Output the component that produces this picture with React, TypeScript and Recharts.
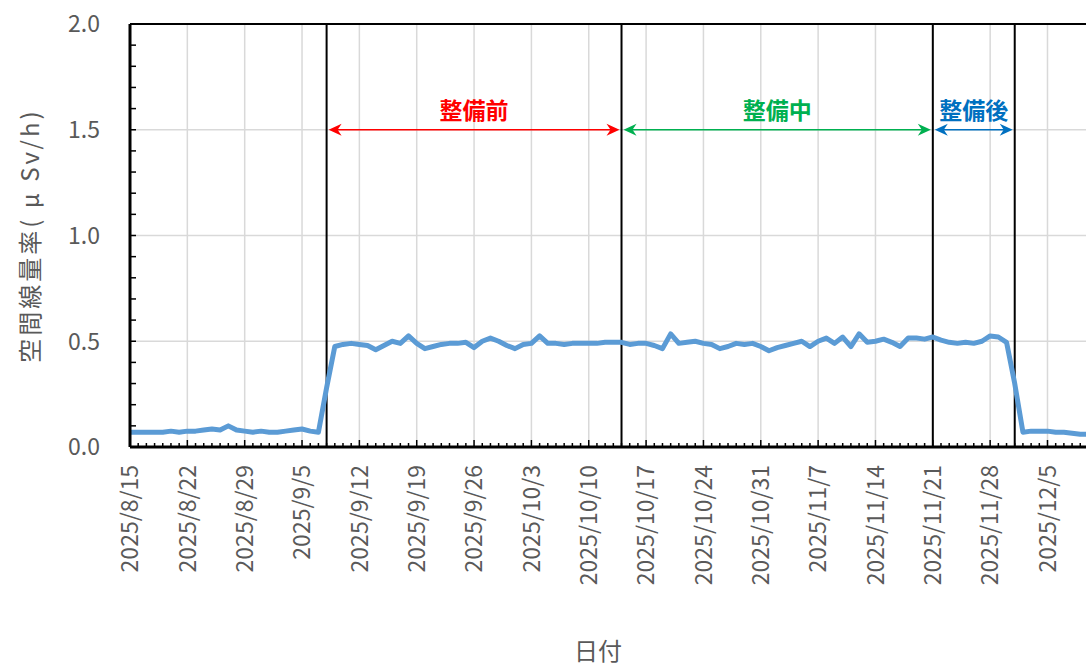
import { LineChart, Line, XAxis, YAxis, CartesianGrid, ReferenceLine } from "recharts"

// 空間線量率 (μSv/h), one reading per day starting 2025/8/15
const startDate = "2025/8/15"
const doseRate = [
  0.07, 0.07, 0.07, 0.07, 0.07, 0.075, 0.07, 0.075, 0.075, 0.08, 0.085, 0.08,
  0.1, 0.08, 0.075, 0.07, 0.075, 0.07, 0.07, 0.075, 0.08, 0.085, 0.075, 0.07,
  0.28,
  0.475, 0.485, 0.49, 0.485, 0.48, 0.46, 0.48, 0.5, 0.49, 0.525,
  0.49, 0.465, 0.475, 0.485, 0.49, 0.49, 0.495, 0.47, 0.5, 0.515,
  0.5, 0.48, 0.465, 0.485, 0.49, 0.525, 0.49, 0.49, 0.485, 0.49,
  0.49, 0.49, 0.49, 0.495, 0.495, 0.495, 0.485, 0.49, 0.49, 0.48,
  0.465, 0.535, 0.49, 0.495, 0.5, 0.49, 0.485, 0.465, 0.475, 0.49,
  0.485, 0.49, 0.475, 0.455, 0.47, 0.48, 0.49, 0.5, 0.475,
  0.5, 0.515, 0.49, 0.52, 0.475, 0.535, 0.495, 0.5, 0.51, 0.495,
  0.475, 0.515, 0.515, 0.51, 0.52, 0.505, 0.495, 0.49, 0.495, 0.49,
  0.5, 0.525, 0.52, 0.495,
  0.3,
  0.07, 0.075, 0.075, 0.075, 0.07, 0.07, 0.065, 0.06, 0.06,
]

const xTickDates = [
  "2025/8/15", "2025/8/22", "2025/8/29", "2025/9/5", "2025/9/12", "2025/9/19",
  "2025/9/26", "2025/10/3", "2025/10/10", "2025/10/17", "2025/10/24", "2025/10/31",
  "2025/11/7", "2025/11/14", "2025/11/21", "2025/11/28", "2025/12/5",
]
const lastVisibleDay = 116.7

const yTicks = [0, 0.5, 1.0, 1.5, 2.0]

const phaseNames = ["整備前", "整備中", "整備後"]
const phaseBounds = ["2025/9/8", "2025/10/14", "2025/11/21", "2025/12/1"]
const phaseLevel = 1.5

const phaseColors = ["#FF0000", "#00B050", "#0070C0"]
const GRAY = "#595959"
const FONT = '"Noto Sans CJK JP", "Noto Sans", sans-serif'

const toUTC = (s: string) => {
  const [y, m, d] = s.split("/").map(Number)
  return Date.UTC(y, m - 1, d)
}
const dayOf = (s: string) => Math.round((toUTC(s) - toUTC(startDate)) / 86400000)

const data = doseRate.map((v, i) => ({ day: i, v }))
const majorDays = xTickDates.map(dayOf)
const allDays = Array.from({ length: Math.floor(lastVisibleDay) + 1 }, (_, i) => i)
const yMinor = Array.from({ length: 21 }, (_, i) => i / 10)

function XTick(props: any) {
  const { x, y, payload } = props
  const idx = majorDays.indexOf(payload.value)
  const major = idx >= 0
  const ty = y + 18
  return (
    <g>
      <line x1={x} x2={x} y1={y} y2={y - (major ? 7 : 4)} stroke="#000" strokeWidth={1.5} />
      {major && (
        <text
          x={x}
          y={ty}
          transform={`rotate(-90 ${x} ${ty})`}
          textAnchor="end"
          dy="0.36em"
          fill={GRAY}
          fontSize={23}
          fontFamily={FONT}
        >
          {xTickDates[idx]}
        </text>
      )}
    </g>
  )
}

function YTick(props: any) {
  const { x, y, payload } = props
  const v = payload.value
  const major = yTicks.some((t) => Math.abs(t - v) < 1e-6)
  return (
    <g>
      <line x1={x} x2={x + 6} y1={y} y2={y} stroke="#000" strokeWidth={1.5} />
      {major && (
        <text x={x - 30} y={y} textAnchor="end" dy="0.36em" fill={GRAY} fontSize={23} fontFamily={FONT}>
          {v.toFixed(1)}
        </text>
      )}
    </g>
  )
}

function phaseArrow(name: string, color: string) {
  return (p: any) => {
    const { x1, x2, y1 } = p
    const a = x1 + 2
    const b = x2 - 2
    return (
      <g>
        <line x1={a + 6} x2={b - 6} y1={y1} y2={y1} stroke={color} strokeWidth={1.5} />
        <path d={`M${a},${y1} L${a + 13},${y1 - 6} L${a + 9},${y1} L${a + 13},${y1 + 6} Z`} fill={color} />
        <path d={`M${b},${y1} L${b - 13},${y1 - 6} L${b - 9},${y1} L${b - 13},${y1 + 6} Z`} fill={color} />
        <text
          x={(x1 + x2) / 2}
          y={y1 - 21}
          textAnchor="middle"
          dominantBaseline="central"
          fill={color}
          fontSize={23}
          fontWeight="bold"
          fontFamily={FONT}
        >
          {name}
        </text>
      </g>
    )
  }
}

export default function App() {
  return (
    <div style={{ width: 1086, height: 667, background: "#fff" }}>
      <style>{`body{margin:0;overflow:hidden}`}</style>
      <LineChart width={1086} height={667} data={data} margin={{ top: 24, right: 0, bottom: 0, left: 0 }}>
        <CartesianGrid
          stroke="#d9d9d9"
          strokeWidth={1.5}
          verticalValues={majorDays}
          horizontalValues={[0.5, 1.0, 1.5]}
        />
        <XAxis
          dataKey="day"
          type="number"
          domain={[0, lastVisibleDay]}
          allowDataOverflow
          ticks={allDays}
          interval={0}
          tickLine={false}
          tickSize={0}
          tickMargin={0}
          tick={<XTick />}
          axisLine={{ stroke: "#000", strokeWidth: 3 }}
          height={220}
          label={{
            content: (p: any) => {
              const vb = p.viewBox
              return (
                <text x={vb.x + vb.width / 2 - 10} y={vb.y + vb.height - 7} textAnchor="middle" fill={GRAY} fontSize={24} fontFamily={FONT}>
                  日付
                </text>
              )
            },
          }}
        />
        <YAxis
          type="number"
          domain={[0, 2]}
          ticks={yMinor}
          interval={0}
          tickLine={false}
          tickSize={0}
          tickMargin={0}
          tick={<YTick />}
          axisLine={{ stroke: "#000", strokeWidth: 3 }}
          width={130}
          label={{
            content: (p: any) => {
              const vb = p.viewBox
              const cx = vb.x + 28
              const cy = vb.y + vb.height / 2
              return (
                <text
                  x={cx}
                  y={cy}
                  transform={`rotate(-90 ${cx} ${cy})`}
                  textAnchor="middle"
                  dominantBaseline="central"
                  fill={GRAY}
                  fontSize={24}
                  letterSpacing={3}
                  fontFamily={FONT}
                >
                  空間線量率( μ Sv/h)
                </text>
              )
            },
          }}
        />
        <ReferenceLine y={2} stroke="#000" strokeWidth={2} />
        {phaseBounds.map((d) => (
          <ReferenceLine key={d} x={dayOf(d)} stroke="#000" strokeWidth={2} />
        ))}
        {phaseNames.map((name, i) => (
          <ReferenceLine
            key={name}
            segment={[
              { x: dayOf(phaseBounds[i]), y: phaseLevel },
              { x: dayOf(phaseBounds[i + 1]), y: phaseLevel },
            ]}
            shape={phaseArrow(name, phaseColors[i])}
          />
        ))}
        <Line
          type="linear"
          dataKey="v"
          stroke="#5B9BD5"
          strokeWidth={5}
          strokeLinejoin="round"
          dot={false}
          activeDot={false}
          isAnimationActive={false}
        />
      </LineChart>
    </div>
  )
}
